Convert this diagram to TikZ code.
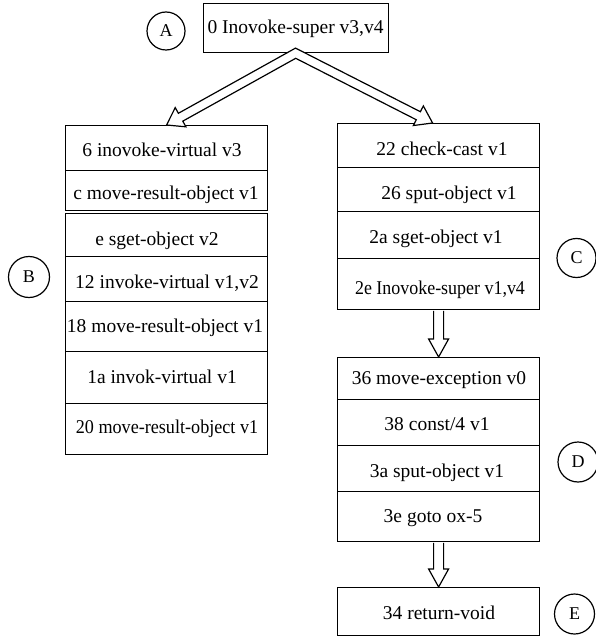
\documentclass[tikz,border=0pt]{standalone}
\usepackage{fontspec}
\setmainfont{Liberation Serif}
\usetikzlibrary{calc}
\newcommand\blkarrow[5]{% #1 start, #2 tip, #3 shaft half width, #4 head half width, #5 head length
  \coordinate (ba-h) at ($(#2)!#5!(#1)$);
  \filldraw[arr] ($(#1)!#3!90:(#2)$) -- ($(ba-h)!#3!90:(#2)$) -- ($(ba-h)!#4!90:(#2)$) -- (#2)
    -- ($(ba-h)!#4!-90:(#2)$) -- ($(ba-h)!#3!-90:(#2)$) -- ($(#1)!#3!-90:(#2)$);
}
\begin{document}
\begin{tikzpicture}[x=1pt,y=-1pt,
  row/.style={draw, line width=1.2pt, minimum width=202pt, inner sep=0pt, anchor=north west, fill=white},
  txt/.style={inner sep=0pt, anchor=base, font=\fontsize{19.5}{23}\selectfont},
  circ/.style={draw, circle, line width=1.2pt, minimum size=39pt, inner sep=0pt, font=\fontsize{18}{22}\selectfont},
  arr/.style={draw, fill=white, line width=1.2pt, line join=miter}]
\useasboundingbox (0,0) rectangle (595,639);

% ---- block A
\node[row, minimum width=185pt, minimum height=49pt] (a0) at (203,3) {};
\node[txt] (ta0) at (295.5,34) {0 Inovoke-super v3,v4};
\node[circ, minimum size=38pt] (cA) at (166,31) {A};

% ---- block B
\node[row, minimum height=45pt] (b1) at (65,125) {};
\node[row, minimum height=40pt] (b2) at (65,170) {};
\node[row, minimum height=43pt] (b3) at (65,213) {};
\node[row, minimum height=45pt] (b4) at (65,256) {};
\node[row, minimum height=50pt] (b5) at (65,301) {};
\node[row, minimum height=52pt] (b6) at (65,351) {};
\node[row, minimum height=51pt] (b7) at (65,403) {};
\node[txt] (tb1) at (162,157) {6 inovoke-virtual v3};
\node[txt] (tb2) at (166,199) {c move-result-object v1};
\node[txt] (tb3) at (157,245) {e sget-object v2};
\node[txt] (tb4) at (167,288) {12 invoke-virtual v1,v2};
\node[txt] (tb5) at (165,332) {18 move-result-object v1};
\node[txt] (tb6) at (162,383) {1a invok-virtual v1};
\node[txt] (tb7) at (167,433) {\scalebox{0.93}[1]{20 move-result-object v1}};
\node[circ, minimum size=41pt] (cB) at (29,277) {B};

% ---- block C
\node[row, minimum height=44pt] (c1) at (337,123) {};
\node[row, minimum height=44pt] (c2) at (337,167) {};
\node[row, minimum height=47pt] (c3) at (337,211) {};
\node[row, minimum height=51pt] (c4) at (337,258) {};
\node[txt] (tc1) at (442,156) {22 check-cast v1};
\node[txt] (tc2) at (449,199) {26 sput-object v1};
\node[txt] (tc3) at (436,243) {2a sget-object v1};
\node[txt] (tc4) at (440,294) {\scalebox{0.92}[1]{2e Inovoke-super v1,v4}};
\node[circ] (cC) at (576.5,258) {C};

% ---- block D
\node[row, minimum height=42pt] (d1) at (337,357) {};
\node[row, minimum height=46pt] (d2) at (337,399) {};
\node[row, minimum height=46pt] (d3) at (337,445) {};
\node[row, minimum height=50pt] (d4) at (337,491) {};
\node[txt] (td1) at (439,384) {36 move-exception v0};
\node[txt] (td2) at (437,430) {38 const/4 v1};
\node[txt] (td3) at (437,477) {3a sput-object v1};
\node[txt] (td4) at (433,522) {3e goto ox-5};
\node[circ, minimum size=40pt] (cD) at (578,462) {D};

% ---- block E
\node[row, minimum height=48pt] (e1) at (337,587) {};
\node[txt] (te1) at (439,619) {34 return-void};
\node[circ, minimum size=40pt] (cE) at (574.5,614) {E};

% ---- vertical block arrows
\coordinate (sCD) at ($(c4.south)+(0,0.6)$);
\blkarrow{sCD}{d1.north}{5pt}{10pt}{18pt}
\coordinate (sDE) at ($(d4.south)+(0,0.6)$);
\blkarrow{sDE}{e1.north}{5pt}{10pt}{18pt}

% ---- forked block arrow from A to B and C
\coordinate (ax) at ($(a0.south)+(-0.5,0)$);
\coordinate (tl) at (b1.north);
\coordinate (tr) at ($(c1.north)+(-6,0)$);
\coordinate (lo1) at ($(ax)!4.5pt!-90:(tl)$);
\coordinate (lo2) at ($(tl)!4.5pt!90:(ax)$);
\coordinate (li1) at ($(ax)!4.5pt!90:(tl)$);
\coordinate (li2) at ($(tl)!4.5pt!-90:(ax)$);
\coordinate (ro1) at ($(ax)!4.5pt!90:(tr)$);
\coordinate (ro2) at ($(tr)!4.5pt!-90:(ax)$);
\coordinate (ri1) at ($(ax)!4.5pt!-90:(tr)$);
\coordinate (ri2) at ($(tr)!4.5pt!90:(ax)$);
\coordinate (P) at (intersection of lo1--lo2 and ro1--ro2);
\coordinate (V) at (intersection of li1--li2 and ri1--ri2);
\coordinate (hl) at ($(tl)!16pt!(ax)$);
\coordinate (hr) at ($(tr)!16pt!(ax)$);
\filldraw[arr] (P) -- ($(hl)!4.5pt!-90:(tl)$) -- ($(hl)!11pt!-90:(tl)$) -- (tl)
  -- ($(hl)!11pt!90:(tl)$) -- ($(hl)!4.5pt!90:(tl)$) -- (V)
  -- ($(hr)!4.5pt!-90:(tr)$) -- ($(hr)!11pt!-90:(tr)$) -- (tr)
  -- ($(hr)!11pt!90:(tr)$) -- ($(hr)!4.5pt!90:(tr)$) -- cycle;
\end{tikzpicture}
\end{document}
